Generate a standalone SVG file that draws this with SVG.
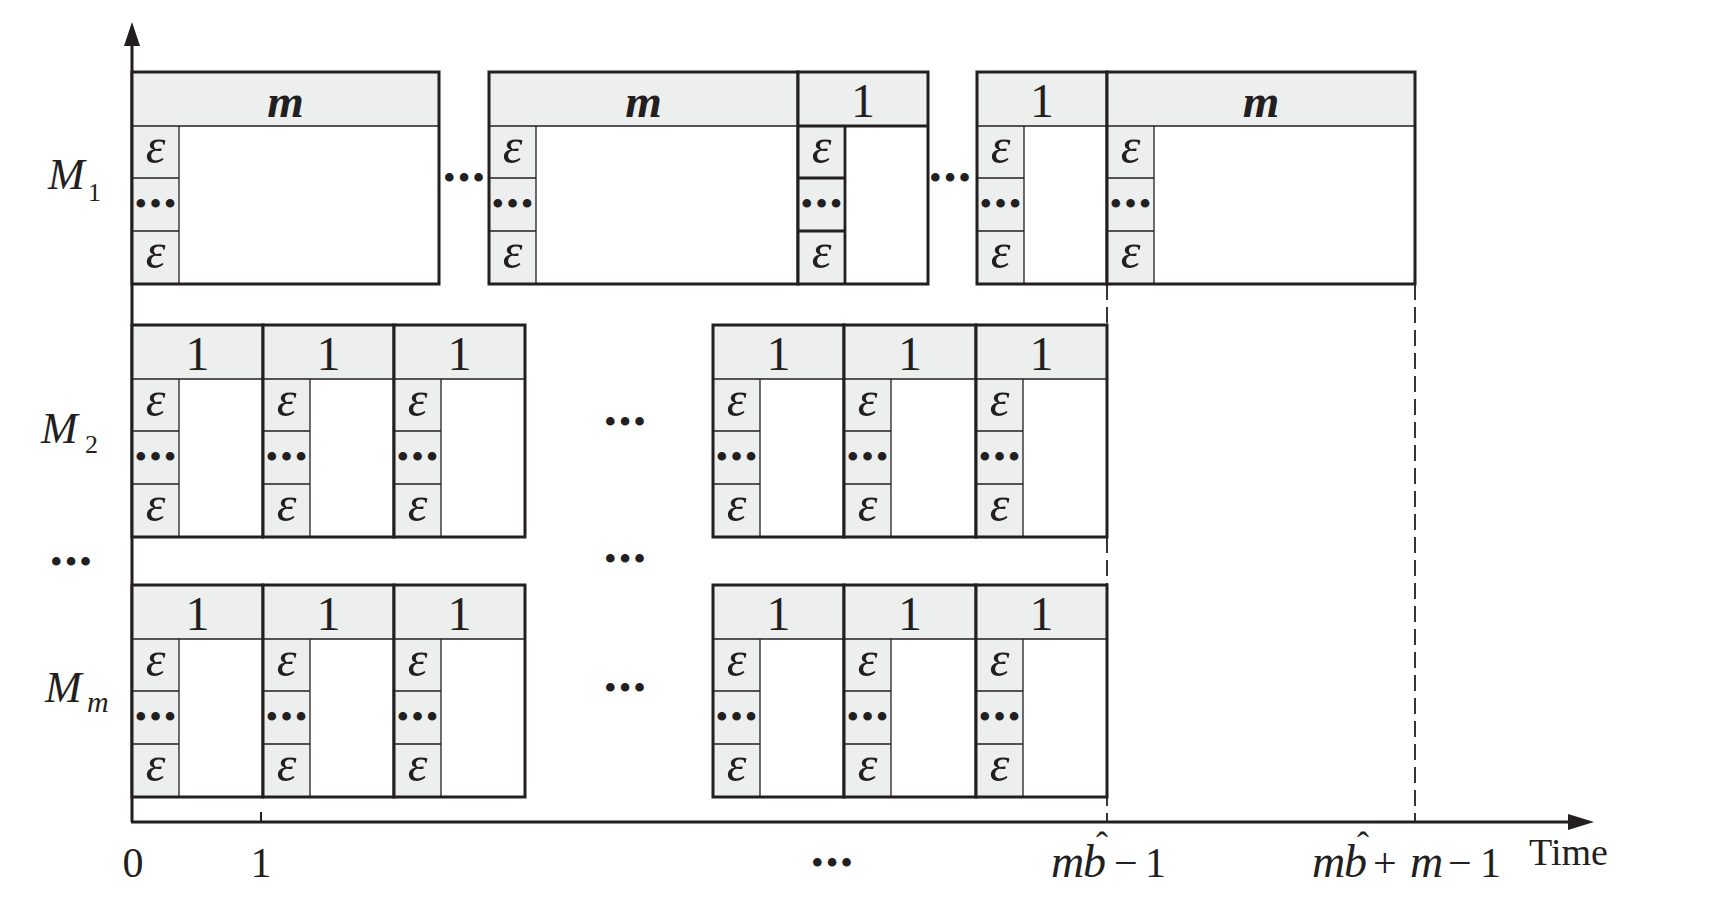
<svg xmlns="http://www.w3.org/2000/svg" width="1716" height="901" viewBox="0 0 1716 901">
<style>
.bx{fill:#fff}
.gr{fill:#edefee}
.ol{fill:none;stroke:#231f20;stroke-width:3}
.ln{fill:none;stroke:#231f20;stroke-width:1.3}
.tk{stroke-width:2.8}
.ax{fill:none;stroke:#231f20;stroke-width:3}
.dash{fill:none;stroke:#231f20;stroke-width:1.8;stroke-dasharray:16 7}
text{font-family:"Liberation Serif","Times New Roman",serif;fill:#231f20}
.hd{font-size:48px;text-anchor:middle}
.hm{font-style:italic;font-weight:bold;font-size:47px}
.ep{font-style:italic;font-size:50px;text-anchor:middle}
.dt{font-size:36px;letter-spacing:2px;text-anchor:middle}
.lb{font-size:42px}
.it{font-style:italic}
.mi{font-style:italic;font-size:46px}
.rl{font-style:italic;font-size:44px}
.sub{font-size:26px}
</style>

<g id="guides">
<path class="dash" d="M1107,284 V822 M1415,284 V822"/>
</g>

<g id="axes">
<path class="ax" d="M132,822 V44 M131,822 H1570"/>
<path d="M132,22 L124,46 L140,46 Z" fill="#231f20"/>
<path d="M1594,822 L1568,814 L1568,830 Z" fill="#231f20"/>
<path class="ax" style="stroke-width:2" d="M261,812 V822"/>
</g>

<!-- M1 row -->
<g id="m1-a">
<rect class="bx" x="132" y="72" width="307" height="212"/>
<rect class="gr" x="132" y="72" width="307" height="54"/>
<rect class="gr" x="132" y="126" width="47" height="158"/>
<path class="ln" d="M132,126 H439 M179,126 V284 M132,178 H179 M132,231 H179"/>
<rect class="ol" x="132" y="72" width="307" height="212"/>
<text class="hd hm" x="285.5" y="117">m</text>
<text class="ep" x="155.5" y="163">ε</text>
<text class="dt" x="156.5" y="216">•••</text>
<text class="ep" x="155.5" y="268">ε</text>
</g>
<g id="m1-b">
<rect class="bx" x="489" y="72" width="309" height="212"/>
<rect class="gr" x="489" y="72" width="309" height="54"/>
<rect class="gr" x="489" y="126" width="47" height="158"/>
<path class="ln" d="M489,126 H798 M536,126 V284 M489,178 H536 M489,231 H536"/>
<rect class="ol" x="489" y="72" width="309" height="212"/>
<text class="hd hm" x="643.5" y="117">m</text>
<text class="ep" x="512.5" y="163">ε</text>
<text class="dt" x="513.5" y="216">•••</text>
<text class="ep" x="512.5" y="268">ε</text>
</g>
<g id="m1-c">
<rect class="bx" x="798" y="72" width="130" height="212"/>
<rect class="gr" x="798" y="72" width="130" height="54"/>
<rect class="gr" x="798" y="126" width="47" height="158"/>
<path class="ln tk" d="M798,126 H928 M845,126 V284 M798,178 H845 M798,231 H845"/>
<rect class="ol" x="798" y="72" width="130" height="212"/>
<text class="hd" x="863" y="117">1</text>
<text class="ep" x="821.5" y="163">ε</text>
<text class="dt" x="822.5" y="216">•••</text>
<text class="ep" x="821.5" y="268">ε</text>
</g>
<g id="m1-d">
<rect class="bx" x="977" y="72" width="130" height="212"/>
<rect class="gr" x="977" y="72" width="130" height="54"/>
<rect class="gr" x="977" y="126" width="47" height="158"/>
<path class="ln" d="M977,126 H1107 M1024,126 V284 M977,178 H1024 M977,231 H1024"/>
<rect class="ol" x="977" y="72" width="130" height="212"/>
<text class="hd" x="1042" y="117">1</text>
<text class="ep" x="1000.5" y="163">ε</text>
<text class="dt" x="1001.5" y="216">•••</text>
<text class="ep" x="1000.5" y="268">ε</text>
</g>
<g id="m1-e">
<rect class="bx" x="1107" y="72" width="308" height="212"/>
<rect class="gr" x="1107" y="72" width="308" height="54"/>
<rect class="gr" x="1107" y="126" width="47" height="158"/>
<path class="ln" d="M1107,126 H1415 M1154,126 V284 M1107,178 H1154 M1107,231 H1154"/>
<rect class="ol" x="1107" y="72" width="308" height="212"/>
<text class="hd hm" x="1261" y="117">m</text>
<text class="ep" x="1130.5" y="163">ε</text>
<text class="dt" x="1131.5" y="216">•••</text>
<text class="ep" x="1130.5" y="268">ε</text>
</g>

<!-- M2 row -->
<g id="m2-1">
<rect class="bx" x="132" y="325" width="131" height="212"/>
<rect class="gr" x="132" y="325" width="131" height="54"/>
<rect class="gr" x="132" y="379" width="47" height="158"/>
<path class="ln" d="M132,379 H263 M179,379 V537 M132,431 H179 M132,484 H179"/>
<rect class="ol" x="132" y="325" width="131" height="212"/>
<text class="hd" x="197.5" y="370">1</text>
<text class="ep" x="155.5" y="416">ε</text>
<text class="dt" x="156.5" y="469">•••</text>
<text class="ep" x="155.5" y="521">ε</text>
</g>
<g id="m2-2">
<rect class="bx" x="263" y="325" width="131" height="212"/>
<rect class="gr" x="263" y="325" width="131" height="54"/>
<rect class="gr" x="263" y="379" width="47" height="158"/>
<path class="ln" d="M263,379 H394 M310,379 V537 M263,431 H310 M263,484 H310"/>
<rect class="ol" x="263" y="325" width="131" height="212"/>
<text class="hd" x="328.5" y="370">1</text>
<text class="ep" x="286.5" y="416">ε</text>
<text class="dt" x="287.5" y="469">•••</text>
<text class="ep" x="286.5" y="521">ε</text>
</g>
<g id="m2-3">
<rect class="bx" x="394" y="325" width="131" height="212"/>
<rect class="gr" x="394" y="325" width="131" height="54"/>
<rect class="gr" x="394" y="379" width="47" height="158"/>
<path class="ln" d="M394,379 H525 M441,379 V537 M394,431 H441 M394,484 H441"/>
<rect class="ol" x="394" y="325" width="131" height="212"/>
<text class="hd" x="459.5" y="370">1</text>
<text class="ep" x="417.5" y="416">ε</text>
<text class="dt" x="418.5" y="469">•••</text>
<text class="ep" x="417.5" y="521">ε</text>
</g>
<g id="m2-4">
<rect class="bx" x="713" y="325" width="131" height="212"/>
<rect class="gr" x="713" y="325" width="131" height="54"/>
<rect class="gr" x="713" y="379" width="47" height="158"/>
<path class="ln" d="M713,379 H844 M760,379 V537 M713,431 H760 M713,484 H760"/>
<rect class="ol" x="713" y="325" width="131" height="212"/>
<text class="hd" x="778.5" y="370">1</text>
<text class="ep" x="736.5" y="416">ε</text>
<text class="dt" x="737.5" y="469">•••</text>
<text class="ep" x="736.5" y="521">ε</text>
</g>
<g id="m2-5">
<rect class="bx" x="844" y="325" width="132" height="212"/>
<rect class="gr" x="844" y="325" width="132" height="54"/>
<rect class="gr" x="844" y="379" width="47" height="158"/>
<path class="ln" d="M844,379 H976 M891,379 V537 M844,431 H891 M844,484 H891"/>
<rect class="ol" x="844" y="325" width="132" height="212"/>
<text class="hd" x="910" y="370">1</text>
<text class="ep" x="867.5" y="416">ε</text>
<text class="dt" x="868.5" y="469">•••</text>
<text class="ep" x="867.5" y="521">ε</text>
</g>
<g id="m2-6">
<rect class="bx" x="976" y="325" width="131" height="212"/>
<rect class="gr" x="976" y="325" width="131" height="54"/>
<rect class="gr" x="976" y="379" width="47" height="158"/>
<path class="ln" d="M976,379 H1107 M1023,379 V537 M976,431 H1023 M976,484 H1023"/>
<rect class="ol" x="976" y="325" width="131" height="212"/>
<text class="hd" x="1041.5" y="370">1</text>
<text class="ep" x="999.5" y="416">ε</text>
<text class="dt" x="1000.5" y="469">•••</text>
<text class="ep" x="999.5" y="521">ε</text>
</g>

<!-- Mm row -->
<g id="mm-1">
<rect class="bx" x="132" y="585" width="131" height="212"/>
<rect class="gr" x="132" y="585" width="131" height="54"/>
<rect class="gr" x="132" y="639" width="47" height="158"/>
<path class="ln" d="M132,639 H263 M179,639 V797 M132,691 H179 M132,744 H179"/>
<rect class="ol" x="132" y="585" width="131" height="212"/>
<text class="hd" x="197.5" y="630">1</text>
<text class="ep" x="155.5" y="676">ε</text>
<text class="dt" x="156.5" y="729">•••</text>
<text class="ep" x="155.5" y="781">ε</text>
</g>
<g id="mm-2">
<rect class="bx" x="263" y="585" width="131" height="212"/>
<rect class="gr" x="263" y="585" width="131" height="54"/>
<rect class="gr" x="263" y="639" width="47" height="158"/>
<path class="ln" d="M263,639 H394 M310,639 V797 M263,691 H310 M263,744 H310"/>
<rect class="ol" x="263" y="585" width="131" height="212"/>
<text class="hd" x="328.5" y="630">1</text>
<text class="ep" x="286.5" y="676">ε</text>
<text class="dt" x="287.5" y="729">•••</text>
<text class="ep" x="286.5" y="781">ε</text>
</g>
<g id="mm-3">
<rect class="bx" x="394" y="585" width="131" height="212"/>
<rect class="gr" x="394" y="585" width="131" height="54"/>
<rect class="gr" x="394" y="639" width="47" height="158"/>
<path class="ln" d="M394,639 H525 M441,639 V797 M394,691 H441 M394,744 H441"/>
<rect class="ol" x="394" y="585" width="131" height="212"/>
<text class="hd" x="459.5" y="630">1</text>
<text class="ep" x="417.5" y="676">ε</text>
<text class="dt" x="418.5" y="729">•••</text>
<text class="ep" x="417.5" y="781">ε</text>
</g>
<g id="mm-4">
<rect class="bx" x="713" y="585" width="131" height="212"/>
<rect class="gr" x="713" y="585" width="131" height="54"/>
<rect class="gr" x="713" y="639" width="47" height="158"/>
<path class="ln" d="M713,639 H844 M760,639 V797 M713,691 H760 M713,744 H760"/>
<rect class="ol" x="713" y="585" width="131" height="212"/>
<text class="hd" x="778.5" y="630">1</text>
<text class="ep" x="736.5" y="676">ε</text>
<text class="dt" x="737.5" y="729">•••</text>
<text class="ep" x="736.5" y="781">ε</text>
</g>
<g id="mm-5">
<rect class="bx" x="844" y="585" width="132" height="212"/>
<rect class="gr" x="844" y="585" width="132" height="54"/>
<rect class="gr" x="844" y="639" width="47" height="158"/>
<path class="ln" d="M844,639 H976 M891,639 V797 M844,691 H891 M844,744 H891"/>
<rect class="ol" x="844" y="585" width="132" height="212"/>
<text class="hd" x="910" y="630">1</text>
<text class="ep" x="867.5" y="676">ε</text>
<text class="dt" x="868.5" y="729">•••</text>
<text class="ep" x="867.5" y="781">ε</text>
</g>
<g id="mm-6">
<rect class="bx" x="976" y="585" width="131" height="212"/>
<rect class="gr" x="976" y="585" width="131" height="54"/>
<rect class="gr" x="976" y="639" width="47" height="158"/>
<path class="ln" d="M976,639 H1107 M1023,639 V797 M976,691 H1023 M976,744 H1023"/>
<rect class="ol" x="976" y="585" width="131" height="212"/>
<text class="hd" x="1041.5" y="630">1</text>
<text class="ep" x="999.5" y="676">ε</text>
<text class="dt" x="1000.5" y="729">•••</text>
<text class="ep" x="999.5" y="781">ε</text>
</g>

<!-- ellipses between boxes -->
<g id="ellipses">
<text class="dt" x="465" y="190">•••</text>
<text class="dt" x="951" y="190">•••</text>
<text class="dt" x="626" y="434">•••</text>
<text class="dt" x="626" y="571">•••</text>
<text class="dt" x="626" y="700">•••</text>
<text class="dt" x="72" y="574">•••</text>
<text class="dt" x="833" y="875">•••</text>
</g>

<!-- row labels -->
<g id="row-labels">
<text x="48" y="189"><tspan class="rl">M</tspan><tspan class="sub" x="88" y="201">1</tspan></text>
<text x="41" y="443"><tspan class="rl">M</tspan><tspan class="sub" x="85" y="453">2</tspan></text>
<text x="45" y="702"><tspan class="rl">M</tspan><tspan class="sub it" x="87" y="712" style="font-size:30px">m</tspan></text>
</g>

<!-- axis labels -->
<g id="axis-labels">
<text class="lb" y="877"><tspan class="mi" x="1051">m</tspan><tspan class="mi" x="1083">b</tspan><tspan x="1096" y="857" style="font-size:36px">ˆ</tspan><tspan x="1114" y="877">−</tspan><tspan x="1145">1</tspan></text>
<text class="lb" y="877"><tspan class="mi" x="1312">m</tspan><tspan class="mi" x="1344">b</tspan><tspan x="1357" y="857" style="font-size:36px">ˆ</tspan><tspan x="1373" y="877">+</tspan><tspan class="mi" x="1410">m</tspan><tspan x="1448">−</tspan><tspan x="1480">1</tspan></text>
<text class="lb" x="133" y="877" text-anchor="middle">0</text>
<text class="lb" x="261" y="877" text-anchor="middle">1</text>
<text x="1529" y="865" style="font-size:38px">Time</text>
</g>
</svg>
